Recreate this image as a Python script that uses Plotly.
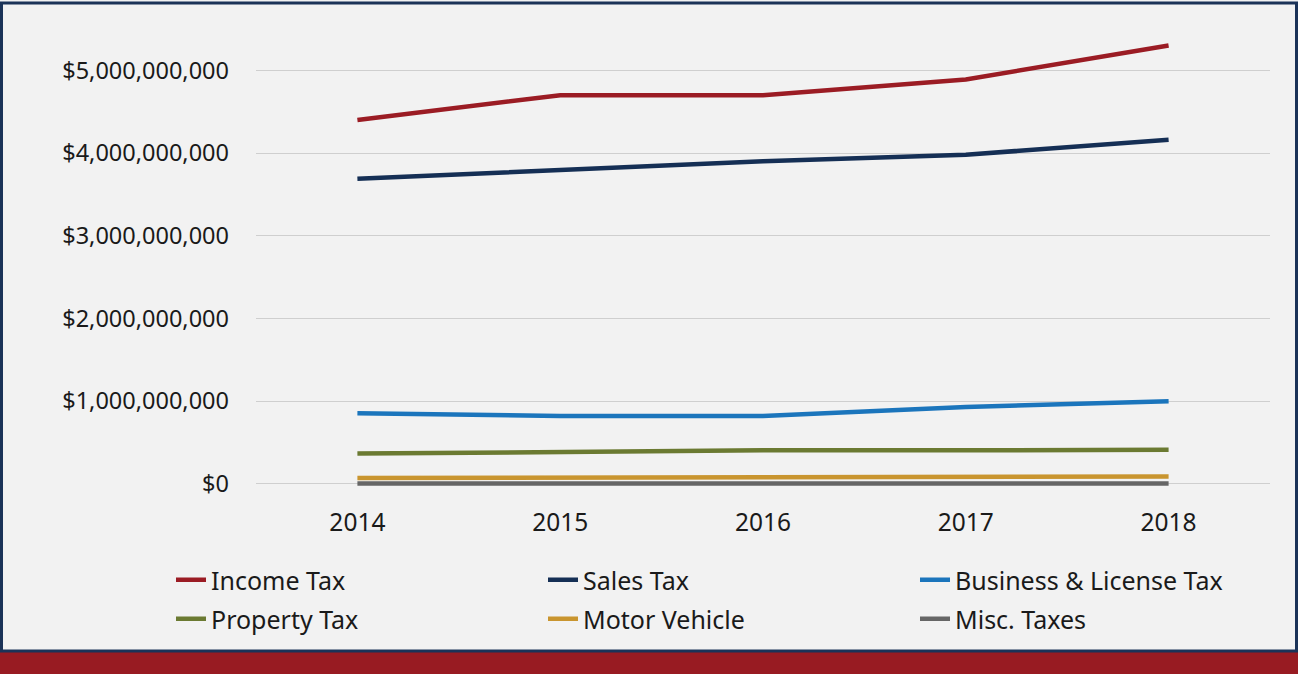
import plotly.graph_objects as go

years = ["2014", "2015", "2016", "2017", "2018"]
income_tax = [4.40e9, 4.70e9, 4.70e9, 4.89e9, 5.30e9]
sales_tax = [3.69e9, 3.79e9, 3.90e9, 3.98e9, 4.16e9]
business_tax = [0.855e9, 0.82e9, 0.82e9, 0.93e9, 1.00e9]
property_tax = [0.366e9, 0.39e9, 0.405e9, 0.405e9, 0.414e9]
motor_vehicle = [0.072e9, 0.075e9, 0.078e9, 0.088e9, 0.088e9]
misc_taxes = [0.004e9, 0.004e9, 0.004e9, 0.004e9, 0.004e9]

series = [
    ("Income Tax", income_tax, "#9b1c24", "legend"),
    ("Sales Tax", sales_tax, "#152f55", "legend"),
    ("Business & License Tax", business_tax, "#1b75bc", "legend"),
    ("Property Tax", property_tax, "#6b7a32", "legend2"),
    ("Motor Vehicle", motor_vehicle, "#c9952f", "legend2"),
    ("Misc. Taxes", misc_taxes, "#666666", "legend2"),
]
yticks = [0, 1e9, 2e9, 3e9, 4e9, 5e9]
ytick_text = ["$0", "$1,000,000,000", "$2,000,000,000", "$3,000,000,000",
              "$4,000,000,000", "$5,000,000,000"]

W, H = 1298, 674
L, R, T, B = 256, 28, 29, 186
pw, ph = W - L - R, H - T - B

def px(x):
    return (x - L) / pw

def py(y):
    return (H - B - y) / ph

FONT = "Noto Sans, Open Sans, sans-serif"

fig = go.Figure()
for name, vals, col, lg in series:
    fig.add_trace(go.Scatter(x=years, y=vals, name=name, mode="lines", legend=lg,
                             line=dict(color=col, width=4.5, shape="linear"),
                             hoverinfo="x+y+name"))

legend_common = dict(orientation="h", x=px(171), xanchor="left", yanchor="top",
                     entrywidth=327, entrywidthmode="pixels",
                     bgcolor="rgba(0,0,0,0)", font=dict(size=25, family=FONT, color="#1a1a1a"),
                     traceorder="normal", itemwidth=30)

fig.update_layout(
    width=W, height=H, autosize=False,
    margin=dict(l=L, r=R, t=T, b=B, pad=0),
    paper_bgcolor="#f2f2f2", plot_bgcolor="#f2f2f2",
    font=dict(family=FONT, size=24, color="#1a1a1a"),
    xaxis=dict(type="category", range=[-0.5, 4.5], showgrid=False, zeroline=False,
               showline=False, ticks="", ticklabelstandoff=17,
               tickfont=dict(size=24.5, family=FONT, color="#1a1a1a")),
    yaxis=dict(range=[-0.05e9, 5.5e9], tickvals=yticks, ticktext=ytick_text,
               showgrid=True, gridcolor="#cfcfcf", gridwidth=1.3,
               zeroline=True, zerolinecolor="#cfcfcf", zerolinewidth=1.3,
               showline=False, ticks="", ticklabelstandoff=26,
               tickfont=dict(size=23.5, family=FONT, color="#1a1a1a")),
    legend=dict(legend_common, y=py(557)),
    legend2=dict(legend_common, y=py(596)),
    showlegend=True,
    shapes=[
        dict(type="rect", xref="paper", yref="paper", x0=px(0), x1=px(W), y0=py(H), y1=py(652),
             fillcolor="#981b22", line=dict(width=0), layer="below"),
        dict(type="rect", xref="paper", yref="paper", x0=px(1.5), x1=px(1296.5), y0=py(651), y1=py(3),
             fillcolor="rgba(0,0,0,0)", line=dict(color="#1b3358", width=3), layer="above"),
    ],
)

fig.write_html("out.html", config={"displayModeBar": False},
               post_script="document.body.style.margin='0px';")
